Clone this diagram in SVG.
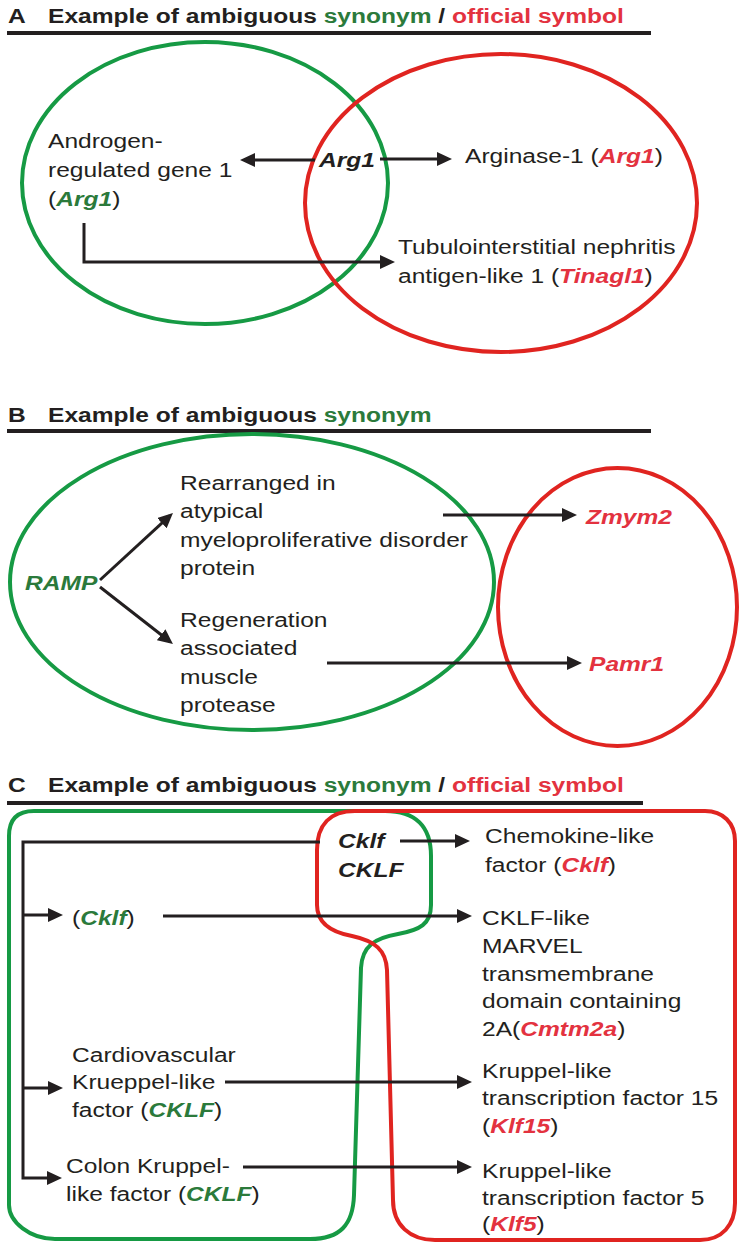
<svg xmlns="http://www.w3.org/2000/svg" width="744" height="1248" viewBox="0 0 744 1248">
  <style>
    .t { font-family: "Liberation Sans", Arial, sans-serif; font-size: 21px; fill: #231f20; }
    .h { font-weight: bold; }
    .bi { font-weight: bold; font-style: italic; }
    .g { fill: #2b7a3b; }
    .r { fill: #e3323f; }
    .rule { stroke: #231f20; stroke-width: 4; }
    .gs { fill: none; stroke: #169a44; stroke-width: 4; }
    .rs { fill: none; stroke: #e02420; stroke-width: 4; }
    .ln { fill: none; stroke: #231f20; stroke-width: 3; marker-end: url(#ah); }
    .ln0 { fill: none; stroke: #231f20; stroke-width: 3; }
  </style>
  <defs>
    <marker id="ah" markerUnits="userSpaceOnUse" markerWidth="15" markerHeight="14" viewBox="0 0 15 14" refX="11" refY="7" orient="auto">
      <path d="M0,0 L15,7 L0,14 Z" fill="#231f20"/>
    </marker>
  </defs>
  <rect width="744" height="1248" fill="#ffffff"/>

  <!-- Panel A -->
  <g id="titleA">
    <text class="t h" transform="matrix(1.17 0 0 1 8 23)">A</text>
    <text class="t h" transform="matrix(1.17 0 0 1 48 23)">Example of ambiguous <tspan class="g">synonym</tspan> / <tspan class="r">official symbol</tspan></text>
    <line class="rule" x1="7" y1="33" x2="651" y2="33"/>
  </g>
  <g id="setA-synonym"><ellipse class="gs" cx="205" cy="183" rx="183" ry="141"/></g>
  <g id="setA-official"><ellipse class="rs" cx="501" cy="203" rx="196" ry="149"/></g>
  <g id="androgen">
    <text class="t" transform="matrix(1.17 0 0 1 48 148)"><tspan x="0" y="0">Androgen-</tspan><tspan x="0" y="29">regulated gene 1</tspan><tspan x="0" y="58">(<tspan class="bi g">Arg1</tspan>)</tspan></text>
  </g>
  <g id="arg1"><text class="t bi" transform="matrix(1.17 0 0 1 319 167)">Arg1</text></g>
  <g id="arginase"><text class="t" transform="matrix(1.17 0 0 1 465 163)">Arginase-1 (<tspan class="bi r">Arg1</tspan>)</text></g>
  <g id="tinagl1">
    <text class="t" transform="matrix(1.17 0 0 1 398 254)"><tspan x="0" y="0">Tubulointerstitial nephritis</tspan><tspan x="0" y="29">antigen-like 1 (<tspan class="bi r">Tinagl1</tspan>)</tspan></text>
  </g>

  <!-- Panel B -->
  <g id="titleB">
    <text class="t h" transform="matrix(1.17 0 0 1 8 422)">B</text>
    <text class="t h" transform="matrix(1.17 0 0 1 48 422)">Example of ambiguous <tspan class="g">synonym</tspan></text>
    <line class="rule" x1="7" y1="431" x2="651" y2="431"/>
  </g>
  <g id="setB-synonym"><ellipse class="gs" cx="252" cy="582" rx="242" ry="148"/></g>
  <g id="setB-official"><ellipse class="rs" cx="617.5" cy="607" rx="119.5" ry="139"/></g>
  <g id="ramp"><text class="t bi g" transform="matrix(1.17 0 0 1 25 590)">RAMP</text></g>
  <g id="rearranged">
    <text class="t" transform="matrix(1.17 0 0 1 180 490)"><tspan x="0" y="0">Rearranged in</tspan><tspan x="0" y="28.5">atypical</tspan><tspan x="0" y="57">myeloproliferative disorder</tspan><tspan x="0" y="85.5">protein</tspan></text>
  </g>
  <g id="regeneration">
    <text class="t" transform="matrix(1.17 0 0 1 180 627)"><tspan x="0" y="0">Regeneration</tspan><tspan x="0" y="28.5">associated</tspan><tspan x="0" y="57">muscle</tspan><tspan x="0" y="85.5">protease</tspan></text>
  </g>
  <g id="zmym2"><text class="t bi r" transform="matrix(1.17 0 0 1 586 524)">Zmym2</text></g>
  <g id="pamr1"><text class="t bi r" transform="matrix(1.17 0 0 1 589 671)">Pamr1</text></g>

  <!-- Panel C -->
  <g id="titleC">
    <text class="t h" transform="matrix(1.17 0 0 1 8 792)">C</text>
    <text class="t h" transform="matrix(1.17 0 0 1 48 792)">Example of ambiguous <tspan class="g">synonym</tspan> / <tspan class="r">official symbol</tspan></text>
    <line class="rule" x1="7" y1="803" x2="643" y2="803"/>
  </g>
  <g id="setC-synonym">
    <path class="gs" d="M9,836 Q9,811 34,811 L385,811 C415,811 431,826 431,856 L431,905 C431,924 420,930 398,934 C375,938 362,946 361,968 L354,1195 C353,1225 340,1239 310,1239 L55,1239 C30,1239 9,1222 9,1205 Z"/>
  </g>
  <g id="setC-official">
    <path class="rs" d="M355,811 L705,811 C723,811 735,823 735,841 L735,1203 C735,1225 722,1240 700,1240 L435,1240 C410,1240 393,1225 393,1200 L387,970 C386,950 375,941 352,936 C330,932 317,922 317,905 L317,850 C317,825 330,811 355,811 Z"/>
  </g>
  <g id="cklf">
    <text class="t bi" transform="matrix(1.17 0 0 1 338 848)"><tspan x="0" y="0">Cklf</tspan><tspan x="0" y="29">CKLF</tspan></text>
  </g>
  <g id="chemokine">
    <text class="t" transform="matrix(1.17 0 0 1 485 843)"><tspan x="0" y="0">Chemokine-like</tspan><tspan x="0" y="29">factor (<tspan class="bi r">Cklf</tspan>)</tspan></text>
  </g>
  <g id="cklf-syn"><text class="t" transform="matrix(1.17 0 0 1 72 925)">(<tspan class="bi g">Cklf</tspan>)</text></g>
  <g id="cmtm2a">
    <text class="t" transform="matrix(1.17 0 0 1 482 925)"><tspan x="0" y="0">CKLF-like</tspan><tspan x="0" y="27.8">MARVEL</tspan><tspan x="0" y="55.6">transmembrane</tspan><tspan x="0" y="83.4">domain containing</tspan><tspan x="0" y="111.2">2A(<tspan class="bi r">Cmtm2a</tspan>)</tspan></text>
  </g>
  <g id="cardiovascular">
    <text class="t" transform="matrix(1.17 0 0 1 72 1062)"><tspan x="0" y="0">Cardiovascular</tspan><tspan x="0" y="27.5">Krueppel-like</tspan><tspan x="0" y="55">factor (<tspan class="bi g">CKLF</tspan>)</tspan></text>
  </g>
  <g id="colon">
    <text class="t" transform="matrix(1.17 0 0 1 66 1173)"><tspan x="0" y="0">Colon Kruppel-</tspan><tspan x="0" y="28">like factor (<tspan class="bi g">CKLF</tspan>)</tspan></text>
  </g>
  <g id="klf15">
    <text class="t" transform="matrix(1.17 0 0 1 482 1078)"><tspan x="0" y="0">Kruppel-like</tspan><tspan x="0" y="27.5">transcription factor 15</tspan><tspan x="0" y="55">(<tspan class="bi r">Klf15</tspan>)</tspan></text>
  </g>
  <g id="klf5">
    <text class="t" transform="matrix(1.17 0 0 1 482 1178)"><tspan x="0" y="0">Kruppel-like</tspan><tspan x="0" y="27">transcription factor 5</tspan><tspan x="0" y="53">(<tspan class="bi r">Klf5</tspan>)</tspan></text>
  </g>

  <!-- Connectors -->
  <g id="connectors">
    <path class="ln" d="M315,160 H244"/>
    <path class="ln" d="M380,159 H448"/>
    <path class="ln" d="M84,223 V262 H391"/>

    <path class="ln" d="M100,580 L170,515.7"/>
    <path class="ln" d="M100,587 L169.8,641.5"/>
    <path class="ln" d="M443,515 H573"/>
    <path class="ln" d="M327,663 H578"/>

    <path class="ln" d="M320,842 H23 V1178 H58"/>
    <path class="ln" d="M23,915 H59"/>
    <path class="ln" d="M23,1088 H59"/>
    <path class="ln" d="M400,841 H466"/>
    <path class="ln" d="M163,916 H468"/>
    <path class="ln" d="M225,1082 H468"/>
    <path class="ln" d="M243,1167 H468"/>
  </g>
</svg>
